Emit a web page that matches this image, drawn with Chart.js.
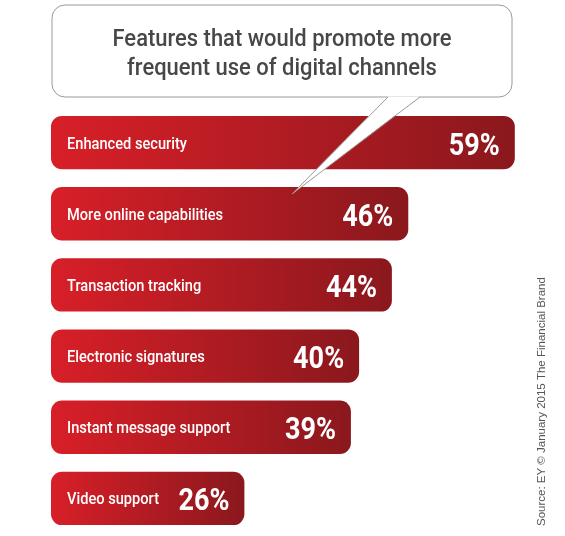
<!DOCTYPE html>
<html>
<head>
<meta charset="utf-8">
<script src="https://cdn.jsdelivr.net/npm/chart.js@4"></script>
<style>
  html, body { margin: 0; padding: 0; background: #fff; }
  #wrap { width: 565px; height: 536px; position: relative; }
</style>
</head>
<body>
<div id="wrap"><canvas id="chart"></canvas></div>
<script>
const categories = ['Enhanced security', 'More online capabilities', 'Transaction tracking', 'Electronic signatures', 'Instant message support', 'Video support'];
const shares = [59, 46, 44, 40, 39, 26];
const titleLines = ['Features that would promote more', 'frequent use of digital channels'];
const sourceNote = 'Source: EY \u00a9 January 2015 The Financial Brand';

const AXIS_MIN = 2.4;
const AXIS_MAX = 60;
const FACE = 'Roboto, "Liberation Sans", sans-serif';

function barGradient(context) {
  const chart = context.chart;
  const { ctx, chartArea, scales } = chart;
  if (!chartArea) return '#c41e26';
  const left = scales.x.getPixelForValue(AXIS_MIN);
  const right = scales.x.getPixelForValue(shares[context.dataIndex]);
  const g = ctx.createLinearGradient(left, 0, right, 0);
  g.addColorStop(0, '#d81f28');
  g.addColorStop(1, '#8a181d');
  return g;
}

function roundRect(ctx, x, y, w, h, r) {
  ctx.beginPath();
  ctx.moveTo(x + r, y);
  ctx.lineTo(x + w - r, y);
  ctx.arcTo(x + w, y, x + w, y + r, r);
  ctx.lineTo(x + w, y + h - r);
  ctx.arcTo(x + w, y + h, x + w - r, y + h, r);
  ctx.lineTo(x + r, y + h);
  ctx.arcTo(x, y + h, x, y + h - r, r);
  ctx.lineTo(x, y + r);
  ctx.arcTo(x, y, x + r, y, r);
  ctx.closePath();
}

// no condensed face installed, so squeeze a normal one horizontally
function narrowText(ctx, text, x, y, align, sx) {
  const w = ctx.measureText(text).width * sx;
  let x0 = x;
  if (align === 'center') x0 = x - w / 2;
  if (align === 'right') x0 = x - w;
  ctx.save();
  ctx.translate(x0, y);
  ctx.scale(sx, 1);
  ctx.textAlign = 'left';
  ctx.fillText(text, 0, 0);
  ctx.restore();
}

function fitFactor(ctx, font, sample, width) {
  ctx.font = font;
  return width / ctx.measureText(sample).width;
}

// speech bubble title, bar labels and the rotated source line
const decorations = {
  id: 'decorations',
  afterDatasetsDraw(chart) {
    const { ctx } = chart;
    const meta = chart.getDatasetMeta(0);

    ctx.save();
    const bx = 52, by = 5, bw = 460, bh = 92, r = 13;
    roundRect(ctx, bx, by, bw, bh, r);
    ctx.fillStyle = '#fff';
    ctx.fill();
    ctx.strokeStyle = '#9a9a9a';
    ctx.lineWidth = 1;
    ctx.stroke();
    // tail
    ctx.beginPath();
    ctx.moveTo(388, by + bh - 0.5);
    ctx.lineTo(292, 194);
    ctx.lineTo(420, by + bh - 0.5);
    ctx.closePath();
    ctx.fill();
    ctx.beginPath();
    ctx.moveTo(388, by + bh);
    ctx.lineTo(292, 194);
    ctx.lineTo(420, by + bh);
    ctx.stroke();

    ctx.fillStyle = '#474747';
    ctx.textBaseline = 'alphabetic';
    const titleFont = '500 24px ' + FACE;
    const tsx = fitFactor(ctx, titleFont, titleLines[0], 339);
    narrowText(ctx, titleLines[0], 282, 46, 'center', tsx);
    narrowText(ctx, titleLines[1], 282, 75, 'center', tsx);

    // labels inside bars
    ctx.fillStyle = '#fff';
    const catFont = '500 17px ' + FACE;
    const csx = fitFactor(ctx, catFont, categories[0], 120);
    const valFont = 'bold 32px ' + FACE;
    const vsx = fitFactor(ctx, valFont, '59%', 51);
    const left = chart.chartArea.left;
    meta.data.forEach((bar, i) => {
      ctx.textBaseline = 'alphabetic';
      ctx.font = catFont;
      narrowText(ctx, categories[i], left + 16, bar.y + 6, 'left', csx);
      ctx.font = valFont;
      narrowText(ctx, shares[i] + '%', bar.x - 15, bar.y + 12, 'right', vsx);
    });

    // source, vertical on the right
    ctx.translate(542, 526);
    ctx.rotate(-Math.PI / 2);
    ctx.fillStyle = '#555';
    ctx.font = '11.5px "Liberation Sans", Arial, sans-serif';
    ctx.textAlign = 'left';
    ctx.textBaseline = 'middle';
    ctx.fillText(sourceNote, 0, 0);
    ctx.restore();
  }
};

new Chart(document.getElementById('chart'), {
  type: 'bar',
  data: {
    labels: categories,
    datasets: [{
      data: shares,
      base: AXIS_MIN,
      backgroundColor: barGradient,
      borderRadius: 11,
      borderSkipped: false,
      categoryPercentage: 0.75,
      barPercentage: 1
    }]
  },
  options: {
    indexAxis: 'y',
    responsive: true,
    maintainAspectRatio: false,
    animation: false,
    layout: { padding: { left: 51, right: 42, top: 107, bottom: 2 } },
    plugins: {
      legend: { display: false },
      tooltip: { enabled: false }
    },
    scales: {
      x: { display: false, beginAtZero: false, min: AXIS_MIN, max: AXIS_MAX },
      y: { display: false }
    }
  },
  plugins: [decorations]
});
</script>
</body>
</html>
